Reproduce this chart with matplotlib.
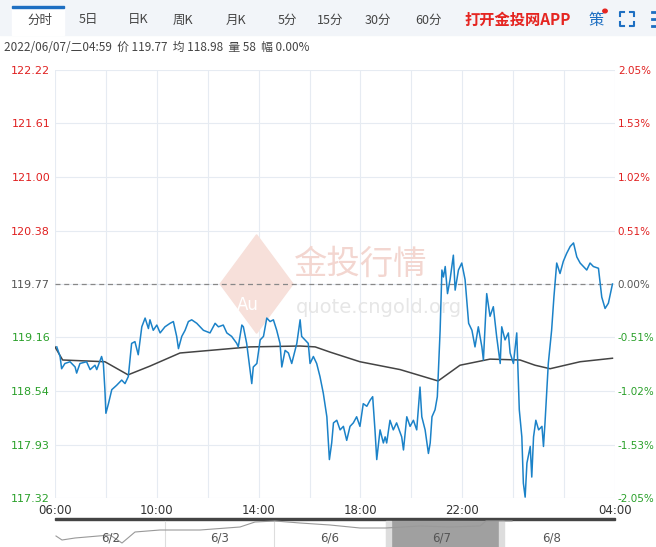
import matplotlib
matplotlib.use("Agg")
import matplotlib.pyplot as plt
from matplotlib.patches import Rectangle, Polygon

plt.rcParams['font.family'] = ['Noto Sans CJK SC', 'DejaVu Sans']

# hours after 06:00
t = [0.07,0.20,0.26,0.39,0.59,0.79,0.85,0.98,1.24,1.38,1.57,1.64,1.83,1.90,1.96,2.00,2.10,2.23,2.42,2.62,
     2.75,2.88,3.01,3.14,3.27,3.41,3.54,3.67,3.73,3.86,4.00,4.13,4.32,4.52,4.65,4.78,4.85,4.98,5.11,5.24,
     5.37,5.57,5.83,6.09,6.29,6.42,6.61,6.75,6.94,7.14,7.20,7.34,7.40,7.53,7.66,7.73,7.79,7.93,8.06,8.19,
     8.32,8.45,8.58,8.71,8.84,8.91,9.04,9.17,9.30,9.50,9.63,9.69,9.82,9.95,10.02,10.15,10.28,10.41,10.54,10.68,
     10.78,10.87,10.94,11.07,11.20,11.33,11.46,11.59,11.72,11.85,11.98,12.11,12.25,12.38,12.48,12.57,12.64,12.77,12.90,12.97,
     13.03,13.16,13.29,13.42,13.62,13.69,13.82,13.95,14.08,14.21,14.34,14.41,14.54,14.67,14.74,14.81,14.93,15.02,15.13,15.20,
     15.26,15.33,15.42,15.52,15.65,15.72,15.85,15.98,16.11,16.25,16.38,16.50,16.63,16.77,16.83,16.96,17.09,17.22,17.35,17.49,
     17.55,17.68,17.81,17.88,18.01,18.14,18.24,18.34,18.40,18.47,18.54,18.67,18.73,18.80,18.89,19.00,19.13,19.19,19.25,19.38,
     19.51,19.60,19.71,19.84,19.97,20.10,20.24,20.37,20.50,20.63,20.76,20.89,21.02,21.15,21.35,21.48,21.61,21.74,21.90]
price = [119.05,118.94,118.80,118.86,118.88,118.82,118.75,118.86,118.88,118.79,118.84,118.79,118.94,118.86,118.56,118.29,118.40,118.56,118.61,118.67,
         118.63,118.71,119.09,119.11,118.96,119.28,119.38,119.26,119.36,119.24,119.30,119.21,119.28,119.32,119.34,119.17,119.03,119.17,119.24,119.34,
         119.36,119.32,119.24,119.21,119.32,119.28,119.30,119.21,119.17,119.09,119.05,119.30,119.28,119.09,118.79,118.63,118.82,118.86,119.13,119.17,
         119.38,119.34,119.36,119.24,119.09,118.82,119.01,118.98,118.86,119.09,119.36,119.17,119.13,119.09,118.86,118.94,118.86,118.71,118.52,118.25,
         117.76,117.95,118.18,118.21,118.10,118.14,117.98,118.14,118.18,118.25,118.14,118.40,118.37,118.44,118.48,118.10,117.76,118.10,117.95,118.02,
         117.95,118.21,118.10,118.18,118.02,117.87,118.25,118.14,118.21,118.10,118.59,118.25,118.10,117.83,117.95,118.25,118.33,118.48,119.24,119.93,
         119.85,119.97,119.66,119.82,120.10,119.70,119.93,120.01,119.82,119.32,119.24,119.05,119.28,119.05,118.90,119.66,119.40,119.51,119.17,118.86,
         119.28,119.13,119.21,118.98,118.86,119.21,118.33,118.02,117.49,117.33,117.72,117.91,117.56,118.02,118.21,118.10,118.14,117.91,118.18,118.86,
         119.24,119.62,120.01,119.89,120.03,120.12,120.20,120.24,120.08,120.01,119.97,119.93,120.01,119.97,119.95,119.62,119.49,119.55,119.77]
avg_t = [0.0,0.3,1.96,2.87,3.73,4.91,7.66,9.63,10.22,10.81,11.98,13.56,15.05,15.91,17.09,18.27,18.86,19.45,20.63,21.9]
avg_p = [119.05,118.90,118.88,118.73,118.83,118.98,119.05,119.06,119.05,118.99,118.88,118.79,118.66,118.84,118.91,118.90,118.84,118.80,118.88,118.92]

left_ticks = [122.22,121.61,121.00,120.38,119.77,119.16,118.54,117.93,117.32]
right_labels = ["2.05%","1.53%","1.02%","0.51%","0.00%","-0.51%","-1.02%","-1.53%","-2.05%"]
x_ticks = [0, 4, 8, 12, 16, 22]
x_labels = ["06:00","10:00","14:00","18:00","22:00","04:00"]
days = ["6/2","6/3","6/6","6/7","6/8"]
tabs = ["分时","5日","日K","周K","月K","5分","15分","30分","60分"]
tab_x = [40,88,138,183,236,287,330,378,428]
prev_close = 119.77

W, H = 656, 547
fig = plt.figure(figsize=(6.56, 5.47), dpi=100)
def fx(x): return x / W
def fy(y): return 1 - y / H

# header
fig.patches.append(Rectangle((0, fy(35)), 1, 35 / H, transform=fig.transFigure, color="#f2f5f9", zorder=0))
fig.patches.append(Rectangle((fx(12), fy(35)), 52 / W, 29 / H, transform=fig.transFigure, color="white", zorder=1))
fig.patches.append(Rectangle((fx(12), fy(8)), 52 / W, 2 / H, transform=fig.transFigure, color="#1e6fc2", zorder=2))
for lab, x in zip(tabs, tab_x):
    fig.text(fx(x), fy(20), lab, ha="center", va="center", fontsize=9, color="#444444")
fig.text(fx(518), fy(20), "打开金投网APP", ha="center", va="center", fontsize=11, color="#e52521", fontweight="bold")
fig.text(fx(596), fy(20), "策", ha="center", va="center", fontsize=11, color="#1e6fc2")
fig.patches.append(plt.Circle((fx(605), fy(11)), 2.2 / W, transform=fig.transFigure, color="#e52521"))
# fullscreen icon corners
for (cx, cy, dx, dy) in [(620, 12, 1, 1), (634, 12, -1, 1), (620, 26, 1, -1), (634, 26, -1, -1)]:
    fig.lines.append(plt.Line2D([fx(cx + 4 * dx), fx(cx), fx(cx)], [fy(cy), fy(cy), fy(cy + 4 * dy)],
                                transform=fig.transFigure, color="#1e6fc2", lw=1.5))
for yy in [12, 19, 26]:
    fig.lines.append(plt.Line2D([fx(652), fx(656)], [fy(yy), fy(yy)], transform=fig.transFigure, color="#1e6fc2", lw=2))
fig.text(fx(4), fy(48), "2022/06/07/二04:59  价 119.77  均 118.98  量 58  幅 0.00%", ha="left", va="center",
         fontsize=8.5, color="#444444")

ax = fig.add_axes([fx(55), fy(498), 560 / W, 428 / H])
ax.set_xlim(0, 22)
ax.set_ylim(117.32, 122.22)
for v in range(0, 23, 2):
    ax.axvline(v, color="#e6ebf2", lw=0.8, zorder=0)
for v in left_ticks:
    ax.axhline(v, color="#e6ebf2", lw=0.8, zorder=0)
ax.axhline(prev_close, color="#888888", lw=0.9, ls=(0, (4, 3)), zorder=1)
for s in ax.spines.values():
    s.set_visible(False)
ax.tick_params(length=0)
ax.set_yticks(left_ticks)
ax.set_yticklabels([f"{v:.2f}" for v in left_ticks], fontsize=8, family="DejaVu Sans")
cols = ["#e02020" if v > prev_close else ("#555555" if v == prev_close else "#2aa02a") for v in left_ticks]
for lab, c in zip(ax.get_yticklabels(), cols):
    lab.set_color(c)
ax2 = ax.twinx()
ax2.set_ylim(ax.get_ylim())
ax2.set_yticks(left_ticks)
ax2.set_yticklabels(right_labels, fontsize=7.5, family="DejaVu Sans")
for lab, c in zip(ax2.get_yticklabels(), cols):
    lab.set_color(c)
for s in ax2.spines.values():
    s.set_visible(False)
ax2.tick_params(length=0, pad=2)
ax.set_xticks(x_ticks)
ax.set_xticklabels(x_labels, fontsize=8.5, color="#333333", family="DejaVu Sans")
ax.tick_params(axis="x", pad=4)

# watermark
ax.text(0.425, 0.545, "金投行情", transform=ax.transAxes, fontsize=24, color="#f3d6d0", ha="left", va="center", zorder=0.5)
ax.text(0.43, 0.445, "quote.cngold.org", transform=ax.transAxes, fontsize=14, color="#e6e6e6", ha="left", va="center",
        zorder=0.5, family="DejaVu Sans")
ax.add_patch(Polygon([[0.295, 0.50], [0.36, 0.615], [0.425, 0.50], [0.36, 0.385]], closed=True, transform=ax.transAxes,
                     color="#f7e0da", zorder=0.5))
ax.text(0.345, 0.45, "Au", transform=ax.transAxes, fontsize=12, color="white", ha="center", va="center", zorder=0.6,
        family="DejaVu Sans")

ax.plot(t, price, color="#1b82c8", lw=1.1, zorder=3)
ax.plot(avg_t, avg_p, color="#444444", lw=1.1, zorder=2)

# navigator
fig.patches.append(Rectangle((fx(55), fy(520)), 560 / W, 2.5 / H, transform=fig.transFigure, color="#444444"))
fig.patches.append(Rectangle((fx(391), fy(547)), 108 / W, 26 / H, transform=fig.transFigure, color="#a0a0a0"))
fig.patches.append(Rectangle((fx(386), fy(547)), 5 / W, 26 / H, transform=fig.transFigure, color="#dddddd"))
fig.patches.append(Rectangle((fx(499), fy(547)), 5 / W, 26 / H, transform=fig.transFigure, color="#dddddd"))
for x in [165, 274, 386, 502]:
    fig.lines.append(plt.Line2D([fx(x), fx(x)], [0, fy(521)], transform=fig.transFigure, color="#dddddd", lw=0.8))
for lab, x in zip(days, [111, 220, 330, 442, 552]):
    fig.text(fx(x), fy(538), lab, ha="center", va="center", fontsize=8.5, color="#555555", family="DejaVu Sans")
nav_x = [56, 62, 75, 110, 122, 135, 160, 200, 240, 255, 275, 300, 330, 360, 386, 420, 450, 480, 486, 497, 512]
nav_y = [536, 540, 538, 535, 543, 532, 530, 530, 527, 522, 521, 523, 525, 528, 528, 526, 527, 526, 521, 521, 521]
fig.lines.append(plt.Line2D([fx(v) for v in nav_x], [fy(v) for v in nav_y], transform=fig.transFigure,
                            color="#999999", lw=0.8))

fig.savefig("out.png", dpi=100)
